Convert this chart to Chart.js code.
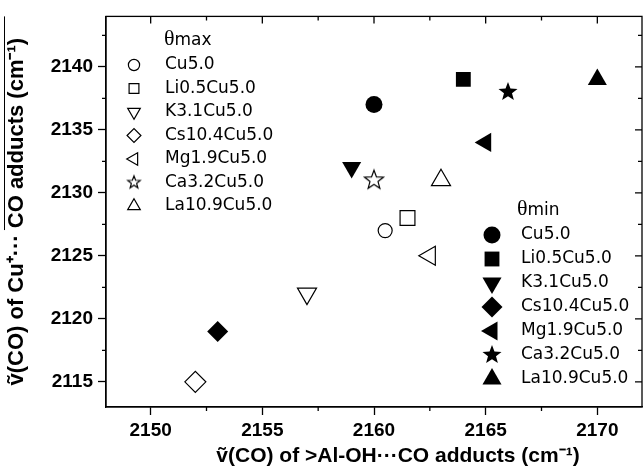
<!DOCTYPE html>
<html>
<head>
<meta charset="utf-8">
<script src="https://cdn.jsdelivr.net/npm/chart.js@4.4.0/dist/chart.umd.min.js"></script>
<style>
html, body { margin: 0; padding: 0; background: #fff; }
</style>
</head>
<body>
<canvas id="adducts_chart" width="644" height="470"></canvas>
<script>
// samples and measured band positions (cm-1)
var samples = ['Cu5.0', 'Li0.5Cu5.0', 'K3.1Cu5.0', 'Cs10.4Cu5.0', 'Mg1.9Cu5.0', 'Ca3.2Cu5.0', 'La10.9Cu5.0']
var maxAlOH = [2160.5, 2161.5, 2157, 2152, 2162.5, 2160, 2163]
var maxCu = [2127, 2128, 2122, 2115, 2125, 2131, 2131]
var minAlOH = [2160, 2164, 2159, 2153, 2165, 2166, 2170]
var minCu = [2137, 2139, 2132, 2119, 2134, 2138, 2139]
var xTicks = [2150, 2155, 2160, 2165, 2170]
var yTicks = [2115, 2120, 2125, 2130, 2135, 2140]
var xTitle = 'ṽ(CO) of >Al-OH···CO adducts (cm⁻¹)'
var yTitle = 'ṽ(CO) of Cu⁺··· CO adducts (cm⁻¹)'

var markerStyles = ['circle', 'rect', 'triangle', 'rectRot', 'triangle', 'star', 'triangle']
var markerRotation = [0, 0, 180, 0, -90, 0, 0]
var markerRadius = { circle: 8.5, rect: 10.5, triangle: 11, rectRot: 10.5, star: 10 }

function starImage(r, filled) {
    var s = Math.ceil(2 * r + 4)
    var c = document.createElement('canvas')
    c.width = s
    c.height = s
    var g = c.getContext('2d')
    g.beginPath()
    for (var i = 0; i < 10; i++) {
        var rr = i % 2 ? r * 0.42 : r
        var ang = -Math.PI / 2 + i * Math.PI / 5
        var px = s / 2 + rr * Math.cos(ang)
        var py = s / 2 + rr * Math.sin(ang)
        if (i) g.lineTo(px, py); else g.moveTo(px, py)
    }
    g.closePath()
    if (filled) {
        g.fillStyle = '#000'
        g.fill()
    } else {
        g.fillStyle = '#fff'
        g.fill()
        g.lineWidth = 1.2
        g.strokeStyle = '#000'
        g.stroke()
    }
    return c
}

function markerFor(i, filled, scale) {
    var style = markerStyles[i]
    var r = markerRadius[style] * scale
    if (!filled && style === 'circle') r = 7 * (scale < 1 ? 0.8 : 1)
    return {
        pointStyle: style === 'star' ? starImage(r, filled) : style,
        rotation: markerRotation[i],
        radius: r,
        borderWidth: filled ? 0 : 1.2
    }
}

var datasets = []
samples.forEach(function (name, i) {
    var m = markerFor(i, false, 1)
    datasets.push({
        label: name + ' θmax',
        data: [{ x: maxAlOH[i], y: maxCu[i] }],
        pointStyle: m.pointStyle,
        rotation: m.rotation,
        pointRadius: m.radius,
        pointBackgroundColor: '#fff',
        pointBorderColor: '#000',
        pointBorderWidth: 1.2
    })
})
samples.forEach(function (name, i) {
    var m = markerFor(i, true, 1)
    datasets.push({
        label: name + ' θmin',
        data: [{ x: minAlOH[i], y: minCu[i] }],
        pointStyle: m.pointStyle,
        rotation: m.rotation,
        pointRadius: m.radius,
        pointBackgroundColor: '#000',
        pointBorderColor: '#000',
        pointBorderWidth: 0
    })
})

// box with mirrored ticks, minor ticks, x title and the two in-plot legends
var framePlugin = {
    id: 'frame',
    afterDraw: function (chart) {
        var ctx = chart.ctx
        var a = chart.chartArea
        var xs = chart.scales.x
        var ys = chart.scales.y
        ctx.save()
        ctx.strokeStyle = '#000'
        ctx.lineWidth = 1.3
        ctx.strokeRect(a.left, a.top, a.right - a.left, a.bottom - a.top)
        ctx.beginPath()
        xTicks.forEach(function (v) {
            var px = xs.getPixelForValue(v)
            ctx.moveTo(px, a.top)
            ctx.lineTo(px, a.top + 7)
            var mv = v + 2.5
            if (mv < xs.max) {
                var mp = xs.getPixelForValue(mv)
                ctx.moveTo(mp, a.bottom)
                ctx.lineTo(mp, a.bottom + 4)
                ctx.moveTo(mp, a.top)
                ctx.lineTo(mp, a.top + 4)
            }
        })
        yTicks.forEach(function (v) {
            var py = ys.getPixelForValue(v)
            ctx.moveTo(a.right, py)
            ctx.lineTo(a.right - 7, py)
            var mv = v + 2.5
            if (mv < ys.max) {
                var mp = ys.getPixelForValue(mv)
                ctx.moveTo(a.left, mp)
                ctx.lineTo(a.left - 4, mp)
                ctx.moveTo(a.right, mp)
                ctx.lineTo(a.right - 4, mp)
            }
        })
        ctx.stroke()

        // overline on the y title, as in the source figure
        ctx.beginPath()
        ctx.lineWidth = 1
        ctx.moveTo(4.5, a.top)
        ctx.lineTo(4.5, a.top + 0.547 * (a.bottom - a.top))
        ctx.stroke()

        // x title sits a little right of centre in the source
        ctx.fillStyle = '#000'
        ctx.font = 'bold 21px "Liberation Sans"'
        ctx.textAlign = 'center'
        ctx.textBaseline = 'middle'
        ctx.fillText(xTitle, (a.left + a.right) / 2 + 24, 456)

        drawLegend(ctx, 'max', false, 0.66, 134, 164, 165, 45, 65, 23.5)
        drawLegend(ctx, 'min', true, 1, 492, 517, 521, 215, 235, 24)
        ctx.restore()
    }
}

function drawLegend(ctx, sub, filled, scale, mx, thx, tx, titleY, rowY, step) {
    ctx.fillStyle = '#000'
    ctx.textBaseline = 'alphabetic'
    ctx.textAlign = 'left'
    ctx.font = '22px "Liberation Serif"'
    ctx.fillText('θ', thx, titleY)
    var w = ctx.measureText('θ').width
    ctx.font = '17px "DejaVu Sans"'
    ctx.fillText(sub, thx + w, titleY)
    samples.forEach(function (name, i) {
        var y = rowY + i * step
        var m = markerFor(i, filled, scale)
        ctx.fillStyle = filled ? '#000' : '#fff'
        ctx.strokeStyle = '#000'
        ctx.lineWidth = m.borderWidth
        Chart.helpers.drawPoint(ctx, m, mx, y)
        ctx.fillStyle = '#000'
        ctx.textBaseline = 'middle'
        ctx.font = '17px "DejaVu Sans"'
        ctx.fillText(name, tx, y)
    })
}

var tickFont = { family: 'Liberation Sans', weight: 'bold', size: 19 }
var titleFont = { family: 'Liberation Sans', weight: 'bold', size: 22 }

var adductsChart = new Chart(document.getElementById('adducts_chart'), {
    type: 'scatter',
    data: { datasets: datasets },
    options: {
        responsive: false,
        animation: false,
        layout: { autoPadding: false, padding: { top: 13, right: 2, left: 0, bottom: 0 } },
        plugins: { legend: { display: false }, tooltip: { enabled: false } },
        scales: {
            x: {
                type: 'linear',
                min: 2148,
                max: 2172,
                afterBuildTicks: function (s) { s.ticks = xTicks.map(function (v) { return { value: v } }) },
                afterFit: function (s) { s.height = 63 },
                ticks: { font: tickFont, color: '#000', padding: 4, maxRotation: 0, callback: function (v) { return '' + v } },
                grid: { display: true, drawOnChartArea: false, drawTicks: true, tickLength: 8, tickColor: '#000', tickWidth: 1.3 },
                border: { display: true, color: '#000', width: 1.3 }
            },
            y: {
                type: 'linear',
                min: 2113,
                max: 2144,
                afterBuildTicks: function (s) { s.ticks = yTicks.map(function (v) { return { value: v } }) },
                afterFit: function (s) { s.width = 106 },
                ticks: { font: tickFont, color: '#000', padding: 5, callback: function (v) { return '' + v } },
                grid: { display: true, drawOnChartArea: false, drawTicks: true, tickLength: 8, tickColor: '#000', tickWidth: 1.3 },
                border: { display: true, color: '#000', width: 1.3 },
                title: {
                    display: true,
                    text: yTitle,
                    font: titleFont,
                    color: '#000',
                    padding: { top: 4, bottom: 0 }
                }
            }
        }
    },
    plugins: [framePlugin]
})
</script>
</body>
</html>
